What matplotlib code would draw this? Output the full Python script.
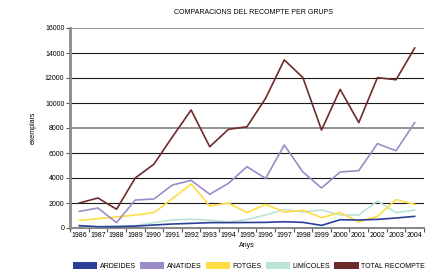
import matplotlib
matplotlib.use("Agg")
import matplotlib.pyplot as plt
from matplotlib.patches import Patch
import numpy as np

years = [str(y) for y in range(1986, 2005)]
ardeides = [190, 100, 110, 150, 240, 320, 370, 430, 430, 440, 450, 500, 450, 210, 660, 640, 690, 800, 930]
anatides = [1330, 1600, 430, 2240, 2320, 3440, 3810, 2700, 3570, 4900, 3970, 6640, 4480, 3200, 4480, 4590, 6750, 6180, 8430]
fotges = [610, 750, 880, 1040, 1230, 2350, 3520, 1760, 2000, 1230, 1890, 1280, 1410, 830, 1230, 480, 930, 2270, 1890]
limicoles = [150, 100, 150, 190, 430, 640, 700, 620, 480, 680, 1040, 1490, 1280, 1440, 1040, 1040, 2160, 1230, 1440]
total = [2000, 2400, 1500, 4000, 5100, 7300, 9440, 6500, 7890, 8100, 10380, 13450, 12030, 7840, 11090, 8430, 12030, 11860, 14400]

series_names = ["ARDEIDES", "ANATIDES", "FOTGES", "LIMÍCOLES", "TOTAL RECOMPTE"]
colors = {"ARDEIDES": "#2B3F96", "ANATIDES": "#9A8CC8", "FOTGES": "#FFDD44",
          "LIMÍCOLES": "#BDE3D4", "TOTAL RECOMPTE": "#6E2B2B"}
values = {"ARDEIDES": ardeides, "ANATIDES": anatides, "FOTGES": fotges,
          "LIMÍCOLES": limicoles, "TOTAL RECOMPTE": total}

plt.rcParams['font.family'] = ['Liberation Sans', 'DejaVu Sans']
fs = 5.0

fig = plt.figure(figsize=(4.28, 2.75), dpi=100)
ax = fig.add_axes([70/428, 1-228/275, 354/428, 200/275])

x = np.arange(len(years))
for name in ["LIMÍCOLES", "FOTGES", "ANATIDES", "ARDEIDES", "TOTAL RECOMPTE"]:
    ax.plot(x, values[name], color=colors[name], lw=1.2, zorder=3)

ax.set_xlim(-0.5, len(years)-0.5)
ax.set_ylim(0, 16000)
yt = np.arange(0, 16001, 2000)
ax.set_yticks(yt)
ax.set_yticklabels([str(v) for v in yt], fontsize=fs)
for v in yt[1:]:
    if v in (8000, 16000):
        ax.axhline(v, color="#8a8a8a", lw=1.3, zorder=1)
    else:
        ax.axhline(v, color="#1a1a1a", lw=0.8, zorder=1)

ax.set_xticks(x)
ax.set_xticklabels(years, fontsize=fs)
ax.set_xticks(np.arange(-0.5, len(years)), minor=True)
ax.tick_params(axis='x', which='major', length=0, pad=3)
ax.tick_params(axis='x', which='minor', length=3, color="#555555", width=0.8)
ax.tick_params(axis='y', length=3, color="#555555", width=0.8, pad=1)

for s in ["top", "right"]:
    ax.spines[s].set_visible(False)
ax.spines["left"].set_color("#8a8a8a")
ax.spines["left"].set_linewidth(2)
ax.spines["bottom"].set_color("#8a8a8a")
ax.spines["bottom"].set_linewidth(1.5)

ax.set_xlabel("Anys", fontsize=fs, labelpad=2)
ax.set_ylabel("exemplars", fontsize=fs, labelpad=6)

fig.text(254/428, 1-12/275, "COMPARACIONS DEL RECOMPTE PER GRUPS", fontsize=fs,
         ha="center", va="center")

handles = [Patch(facecolor=colors[n], edgecolor="none") for n in series_names]
fig.legend(handles, series_names, loc="center", bbox_to_anchor=(249/428, 1-266/275),
           ncol=5, frameon=False, fontsize=fs, handlelength=3.5, handleheight=1.1,
           columnspacing=0.55, handletextpad=0.4, borderpad=0)

fig.savefig("out.png", dpi=100)
